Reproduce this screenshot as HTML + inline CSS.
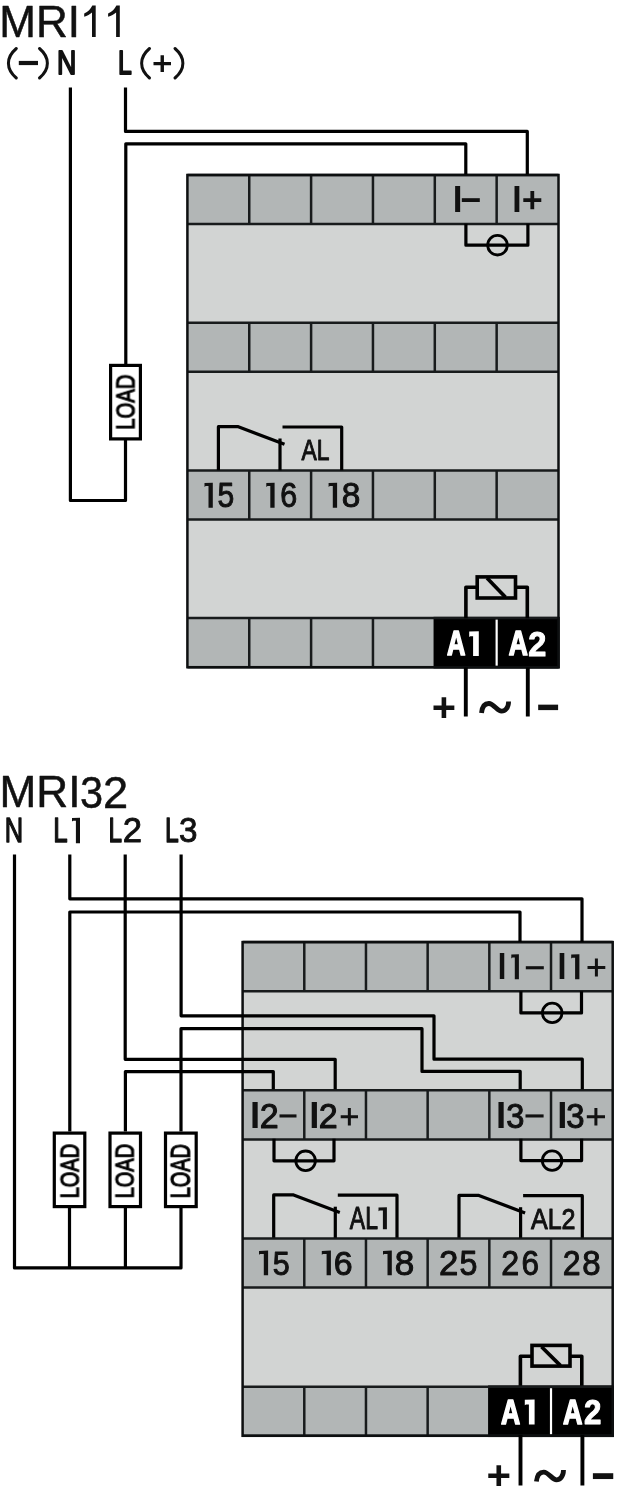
<!DOCTYPE html>
<html><head><meta charset="utf-8"><style>
html,body{margin:0;padding:0;background:#fff;width:626px;height:1500px;overflow:hidden;}
svg{display:block;font-family:"Liberation Sans",sans-serif;filter:blur(0.55px);}

</style></head><body>
<svg width="626" height="1500" viewBox="0 0 626 1500">
<defs><filter id="gs" x="-20%" y="-20%" width="140%" height="140%"><feColorMatrix type="saturate" values="0"/></filter></defs>
<text filter="url(#gs)" transform="translate(-0.78,36.65) scale(0.9895,1)" font-size="44.51" font-weight="normal" fill="#111" stroke="#111" stroke-width="0.5" stroke-linejoin="round">MRI</text>
<path d="M95.7,5.6V36.9H92V12.6C90,14.4 87.2,16.1 84.2,16.8V13.6C88.2,12.1 90.5,9.1 92.3,5.6Z" fill="#111"/>
<path d="M119.8,5.6V36.9H116.1V12.6C114.1,14.4 111.1,16.1 108.1,16.8V13.6C112.1,12.1 114.6,9.1 116.4,5.6Z" fill="#111"/>
<path d="M16.3,48.5C5.8,57.5 5.8,69 16.3,78" stroke="#111" stroke-width="3.0" fill="none" stroke-linecap="round"/>
<rect x="18.8" y="60.9" width="19.2" height="4.2" fill="#111"/>
<path d="M39.5,48.5C50,57.5 50,69 39.5,78" stroke="#111" stroke-width="3.0" fill="none" stroke-linecap="round"/>
<text filter="url(#gs)" transform="translate(57.05,74.15) scale(0.8059,1)" font-size="33.16" font-weight="normal" fill="#111" stroke="#111" stroke-width="1.9" stroke-linejoin="round">N</text>
<text filter="url(#gs)" transform="translate(118.11,74.35) scale(0.7405,1)" font-size="33.45" font-weight="normal" fill="#111" stroke="#111" stroke-width="1.9" stroke-linejoin="round">L</text>
<path d="M149.5,48.5C139,57.5 139,69 149.5,78" stroke="#111" stroke-width="3.0" fill="none" stroke-linecap="round"/>
<path d="M153.5,63.6H171M162.25,55.2V72" stroke="#111" stroke-width="3.4" fill="none"/>
<path d="M175,48.5C185.5,57.5 185.5,69 175,78" stroke="#111" stroke-width="3.0" fill="none" stroke-linecap="round"/>
<rect x="187.4" y="175" width="371.1" height="492.2" fill="#d2d4d3"/>
<rect x="187.4" y="175" width="371.1" height="49.1" fill="#b2b6b6"/>
<path d="M187.4,175H558.5M187.4,224.1H558.5" stroke="#181b1c" stroke-width="2.5" fill="none"/>
<path d="M249.25,175V224.1" stroke="#181b1c" stroke-width="2.5" fill="none"/>
<path d="M311.1,175V224.1" stroke="#181b1c" stroke-width="2.5" fill="none"/>
<path d="M372.95,175V224.1" stroke="#181b1c" stroke-width="2.5" fill="none"/>
<path d="M434.8,175V224.1" stroke="#181b1c" stroke-width="2.5" fill="none"/>
<path d="M496.65,175V224.1" stroke="#181b1c" stroke-width="2.5" fill="none"/>
<rect x="187.4" y="322.7" width="371.1" height="49.1" fill="#b2b6b6"/>
<path d="M187.4,322.7H558.5M187.4,371.8H558.5" stroke="#181b1c" stroke-width="2.5" fill="none"/>
<path d="M249.25,322.7V371.8" stroke="#181b1c" stroke-width="2.5" fill="none"/>
<path d="M311.1,322.7V371.8" stroke="#181b1c" stroke-width="2.5" fill="none"/>
<path d="M372.95,322.7V371.8" stroke="#181b1c" stroke-width="2.5" fill="none"/>
<path d="M434.8,322.7V371.8" stroke="#181b1c" stroke-width="2.5" fill="none"/>
<path d="M496.65,322.7V371.8" stroke="#181b1c" stroke-width="2.5" fill="none"/>
<rect x="187.4" y="470.4" width="371.1" height="49.1" fill="#b2b6b6"/>
<path d="M187.4,470.4H558.5M187.4,519.5H558.5" stroke="#181b1c" stroke-width="2.5" fill="none"/>
<path d="M249.25,470.4V519.5" stroke="#181b1c" stroke-width="2.5" fill="none"/>
<path d="M311.1,470.4V519.5" stroke="#181b1c" stroke-width="2.5" fill="none"/>
<path d="M372.95,470.4V519.5" stroke="#181b1c" stroke-width="2.5" fill="none"/>
<path d="M434.8,470.4V519.5" stroke="#181b1c" stroke-width="2.5" fill="none"/>
<path d="M496.65,470.4V519.5" stroke="#181b1c" stroke-width="2.5" fill="none"/>
<rect x="187.4" y="618.1" width="371.1" height="49.1" fill="#b2b6b6"/>
<rect x="433.55" y="616.85" width="126.2" height="51.6" fill="#000"/>
<path d="M187.4,618.1H558.5M187.4,667.2H558.5" stroke="#181b1c" stroke-width="2.5" fill="none"/>
<path d="M249.25,618.1V667.2" stroke="#181b1c" stroke-width="2.5" fill="none"/>
<path d="M311.1,618.1V667.2" stroke="#181b1c" stroke-width="2.5" fill="none"/>
<path d="M372.95,618.1V667.2" stroke="#181b1c" stroke-width="2.5" fill="none"/>
<path d="M496.65,619.6V665.7" stroke="#fff" stroke-width="2.2" fill="none"/>
<rect x="187.4" y="175" width="371.1" height="492.2" fill="none" stroke="#0d0f10" stroke-width="2.5"/>
<path d="M70.4,87.6V500.5H125.5V440" stroke="#000" stroke-width="3.2" fill="none" stroke-linejoin="round"/>
<path d="M125.8,364V143.8H465.8V174.5" stroke="#000" stroke-width="3.2" fill="none" stroke-linejoin="round"/>
<path d="M125.5,87.6V131.4H527.3V174.5" stroke="#000" stroke-width="3.2" fill="none" stroke-linejoin="round"/>
<rect x="110.6" y="365.4" width="29.8" height="73.5" fill="#fff" stroke="#000" stroke-width="3.2"/>
<text filter="url(#gs)" transform="translate(134.44,429.67) rotate(-90) scale(0.7772,1)" font-size="26.01" font-weight="normal" fill="#000" stroke="#000" stroke-width="1.2">LOAD</text>
<path d="M465.9,223.8V245.2H527.9V223.8" stroke="#000" stroke-width="3.2" fill="none" stroke-linejoin="round"/>
<circle cx="497.5" cy="245.2" r="9.8" fill="none" stroke="#000" stroke-width="2.8"/>
<text filter="url(#gs)" transform="translate(452.63,212) scale(0.9649,1)" font-size="36.36" font-weight="bold" fill="#111">I</text>
<rect x="461.8" y="198.2" width="18" height="3.8" fill="#111"/>
<text filter="url(#gs)" transform="translate(512.23,212) scale(0.9263,1)" font-size="36.36" font-weight="bold" fill="#111">I</text>
<path d="M523.3,200.1H541.3M532.3,191V209.2" stroke="#111" stroke-width="3.8" fill="none"/>
<path d="M204.5,483.1L212.8,482.8V507.7H208.5V486.1H205.7L204.5,486.9Z" fill="#111"/>
<text filter="url(#gs)" transform="translate(217.5,507.15) scale(0.8677,1)" font-size="34.7" font-weight="normal" fill="#111" stroke="#111" stroke-width="1" stroke-linejoin="round">5</text>
<path d="M266.3,483.1L274.6,482.8V507.7H270.3V486.1H267.5L266.3,486.9Z" fill="#111"/>
<text filter="url(#gs)" transform="translate(280.18,507.16) scale(0.8913,1)" font-size="34.2" font-weight="normal" fill="#111" stroke="#111" stroke-width="1" stroke-linejoin="round">6</text>
<path d="M328.6,483.1L337.1,482.8V507.7H332.8V486.1H329.8L328.6,486.9Z" fill="#111"/>
<text filter="url(#gs)" transform="translate(341.78,507.16) scale(0.9766,1)" font-size="34.2" font-weight="normal" fill="#111" stroke="#111" stroke-width="1" stroke-linejoin="round">8</text>
<path d="M218.4,470.3V426.7H238.3L284.5,444.3" stroke="#000" stroke-width="3.2" fill="none" stroke-linejoin="round"/>
<path d="M280,470.3V438.5" stroke="#000" stroke-width="3.2" fill="none" stroke-linejoin="round"/>
<path d="M282.5,427H341.7V470.3" stroke="#000" stroke-width="3.2" fill="none" stroke-linejoin="round"/>
<text filter="url(#gs)" transform="translate(301.44,459.9) scale(0.7571,1)" font-size="30.25" font-weight="normal" fill="#111" stroke="#111" stroke-width="1" stroke-linejoin="round">AL</text>
<path d="M465.9,618.2V587.3H477" stroke="#000" stroke-width="3.6" fill="none" stroke-linejoin="round"/>
<path d="M527.3,618.2V587.3H516" stroke="#000" stroke-width="3.6" fill="none" stroke-linejoin="round"/>
<rect x="477.2" y="576.9" width="38.3" height="21.1" fill="none" stroke="#000" stroke-width="3.6"/>
<path d="M487,578L505.5,597.2" stroke="#000" stroke-width="3.7" fill="none" stroke-linejoin="round"/>
<text filter="url(#gs)" transform="translate(447.11,655.25) scale(0.7467,1)" font-size="34.18" font-weight="bold" fill="#fff" stroke="#fff" stroke-width="1.7" stroke-linejoin="round">A</text>
<path d="M469.2,631.5L478.8,631.2V656.1H473.1V636.2H470.4L469.2,637Z" fill="#fff"/>
<text filter="url(#gs)" transform="translate(508.69,655.25) scale(0.7729,1)" font-size="34.18" font-weight="bold" fill="#fff" stroke="#fff" stroke-width="1.7" stroke-linejoin="round">A</text>
<text filter="url(#gs)" transform="translate(528.16,655.6) scale(0.9367,1)" font-size="34.7" font-weight="bold" fill="#fff" stroke="#fff" stroke-width="1" stroke-linejoin="round">2</text>
<path d="M465.8,667.4V716.5" stroke="#000" stroke-width="3.9" fill="none" stroke-linejoin="round"/>
<path d="M527.8,667.4V716.5" stroke="#000" stroke-width="3.9" fill="none" stroke-linejoin="round"/>
<text filter="url(#gs)" transform="translate(431.63,720.51) scale(1.0053,1)" font-size="41.38" font-weight="bold" fill="#111">+</text>
<path d="M481.5,713C482.3,705.5 485.2,703.4 489,703.5 C493.5,703.6 497.5,711.2 501.5,711.2 C505,711.2 508.6,708 508.6,701.5" stroke="#111" stroke-width="4.8" fill="none"/>
<text filter="url(#gs)" transform="translate(536.41,723.88) scale(0.7960,1)" font-size="50" font-weight="bold" fill="#111">−</text>
<text filter="url(#gs)" transform="translate(-0.49,807.45) scale(0.9955,1)" font-size="44.36" font-weight="normal" fill="#111" stroke="#111" stroke-width="0.5" stroke-linejoin="round">MRI</text>
<text filter="url(#gs)" transform="translate(79.89,807.9) scale(0.9256,1)" font-size="44.81" font-weight="normal" fill="#111" stroke="#111" stroke-width="0.5" stroke-linejoin="round">3</text>
<text filter="url(#gs)" transform="translate(102.89,807.55) scale(1.0220,1)" font-size="44.3" font-weight="normal" fill="#111" stroke="#111" stroke-width="0.5" stroke-linejoin="round">2</text>
<text filter="url(#gs)" transform="translate(4.8,842.2) scale(0.7452,1)" font-size="34.18" font-weight="normal" fill="#111" stroke="#111" stroke-width="1.4" stroke-linejoin="round">N</text>
<text filter="url(#gs)" transform="translate(53.36,842.4) scale(0.7453,1)" font-size="34.76" font-weight="normal" fill="#111" stroke="#111" stroke-width="1.4" stroke-linejoin="round">L</text>
<path d="M72,818.1L80,817.8V843.2H75.9V820.7H73.2L72,821.5Z" fill="#111"/>
<text filter="url(#gs)" transform="translate(108.59,842.2) scale(0.7054,1)" font-size="34.47" font-weight="normal" fill="#111" stroke="#111" stroke-width="1.4" stroke-linejoin="round">L</text>
<text filter="url(#gs)" transform="translate(122.71,842.45) scale(0.9846,1)" font-size="35.27" font-weight="normal" fill="#111" stroke="#111" stroke-width="0.9" stroke-linejoin="round">2</text>
<text filter="url(#gs)" transform="translate(164.96,842.2) scale(0.7186,1)" font-size="34.47" font-weight="normal" fill="#111" stroke="#111" stroke-width="1.4" stroke-linejoin="round">L</text>
<text filter="url(#gs)" transform="translate(179.1,842.4) scale(0.9451,1)" font-size="35.19" font-weight="normal" fill="#111" stroke="#111" stroke-width="0.9" stroke-linejoin="round">3</text>
<rect x="242.6" y="942.1" width="370.1" height="493.7" fill="#d2d4d3"/>
<rect x="242.6" y="942.1" width="370.1" height="49.1" fill="#b2b6b6"/>
<path d="M242.6,942.1H612.7M242.6,991.2H612.7" stroke="#181b1c" stroke-width="2.5" fill="none"/>
<path d="M304.28,942.1V991.2" stroke="#181b1c" stroke-width="2.5" fill="none"/>
<path d="M365.97,942.1V991.2" stroke="#181b1c" stroke-width="2.5" fill="none"/>
<path d="M427.65,942.1V991.2" stroke="#181b1c" stroke-width="2.5" fill="none"/>
<path d="M489.33,942.1V991.2" stroke="#181b1c" stroke-width="2.5" fill="none"/>
<path d="M551.02,942.1V991.2" stroke="#181b1c" stroke-width="2.5" fill="none"/>
<rect x="242.6" y="1090.3" width="370.1" height="49.1" fill="#b2b6b6"/>
<path d="M242.6,1090.3H612.7M242.6,1139.4H612.7" stroke="#181b1c" stroke-width="2.5" fill="none"/>
<path d="M304.28,1090.3V1139.4" stroke="#181b1c" stroke-width="2.5" fill="none"/>
<path d="M365.97,1090.3V1139.4" stroke="#181b1c" stroke-width="2.5" fill="none"/>
<path d="M427.65,1090.3V1139.4" stroke="#181b1c" stroke-width="2.5" fill="none"/>
<path d="M489.33,1090.3V1139.4" stroke="#181b1c" stroke-width="2.5" fill="none"/>
<path d="M551.02,1090.3V1139.4" stroke="#181b1c" stroke-width="2.5" fill="none"/>
<rect x="242.6" y="1238.5" width="370.1" height="49.1" fill="#b2b6b6"/>
<path d="M242.6,1238.5H612.7M242.6,1287.6H612.7" stroke="#181b1c" stroke-width="2.5" fill="none"/>
<path d="M304.28,1238.5V1287.6" stroke="#181b1c" stroke-width="2.5" fill="none"/>
<path d="M365.97,1238.5V1287.6" stroke="#181b1c" stroke-width="2.5" fill="none"/>
<path d="M427.65,1238.5V1287.6" stroke="#181b1c" stroke-width="2.5" fill="none"/>
<path d="M489.33,1238.5V1287.6" stroke="#181b1c" stroke-width="2.5" fill="none"/>
<path d="M551.02,1238.5V1287.6" stroke="#181b1c" stroke-width="2.5" fill="none"/>
<rect x="242.6" y="1386.7" width="370.1" height="49.1" fill="#b2b6b6"/>
<rect x="488.08" y="1385.45" width="125.87" height="51.6" fill="#000"/>
<path d="M242.6,1386.7H612.7M242.6,1435.8H612.7" stroke="#181b1c" stroke-width="2.5" fill="none"/>
<path d="M304.28,1386.7V1435.8" stroke="#181b1c" stroke-width="2.5" fill="none"/>
<path d="M365.97,1386.7V1435.8" stroke="#181b1c" stroke-width="2.5" fill="none"/>
<path d="M427.65,1386.7V1435.8" stroke="#181b1c" stroke-width="2.5" fill="none"/>
<path d="M551.02,1388.2V1434.3" stroke="#fff" stroke-width="2.2" fill="none"/>
<rect x="242.6" y="942.1" width="370.1" height="493.7" fill="none" stroke="#0d0f10" stroke-width="2.5"/>
<path d="M14.5,854.4V1267.9H181V1208" stroke="#000" stroke-width="3.2" fill="none" stroke-linejoin="round"/>
<path d="M69.8,854.4V898.8H582V942" stroke="#000" stroke-width="3.2" fill="none" stroke-linejoin="round"/>
<path d="M69.8,1131.5V912H520V942" stroke="#000" stroke-width="3.2" fill="none" stroke-linejoin="round"/>
<path d="M69.5,1208V1267.9" stroke="#000" stroke-width="3.2" fill="none" stroke-linejoin="round"/>
<path d="M125.2,854.4V1059.3H335.2V1089.3" stroke="#000" stroke-width="3.2" fill="none" stroke-linejoin="round"/>
<path d="M125.4,1131.5V1071.6H273.3V1089.3" stroke="#000" stroke-width="3.2" fill="none" stroke-linejoin="round"/>
<path d="M125.4,1208V1267.9" stroke="#000" stroke-width="3.2" fill="none" stroke-linejoin="round"/>
<path d="M181.1,854.4V1015.8H434V1059.2H582.3V1089.3" stroke="#000" stroke-width="3.2" fill="none" stroke-linejoin="round"/>
<path d="M181,1131.5V1028.7H422V1071.4H520.2V1089.3" stroke="#000" stroke-width="3.2" fill="none" stroke-linejoin="round"/>
<rect x="54.3" y="1133.1" width="30.5" height="73.5" fill="#fff" stroke="#000" stroke-width="3.2"/>
<text filter="url(#gs)" transform="translate(78.65,1198.25) rotate(-90) scale(0.7838,1)" font-size="25.44" font-weight="normal" fill="#000" stroke="#000" stroke-width="1.2">LOAD</text>
<rect x="110" y="1133.1" width="30.5" height="73.5" fill="#fff" stroke="#000" stroke-width="3.2"/>
<text filter="url(#gs)" transform="translate(133.63,1198.25) rotate(-90) scale(0.7505,1)" font-size="26.57" font-weight="normal" fill="#000" stroke="#000" stroke-width="1.2">LOAD</text>
<rect x="165.5" y="1133.1" width="30.7" height="73.5" fill="#fff" stroke="#000" stroke-width="3.2"/>
<text filter="url(#gs)" transform="translate(189.83,1198.25) rotate(-90) scale(0.7310,1)" font-size="27.28" font-weight="normal" fill="#000" stroke="#000" stroke-width="1.2">LOAD</text>
<path d="M520.9,991.2V1012.9H581.5V991.2" stroke="#000" stroke-width="3.2" fill="none" stroke-linejoin="round"/>
<circle cx="552.2" cy="1012.9" r="9.8" fill="none" stroke="#000" stroke-width="2.8"/>
<path d="M274,1138.7V1160.8H334V1138.7" stroke="#000" stroke-width="3.2" fill="none" stroke-linejoin="round"/>
<circle cx="305.6" cy="1160.8" r="9.8" fill="none" stroke="#000" stroke-width="2.8"/>
<path d="M520.9,1138.7V1160.6H581.6V1138.7" stroke="#000" stroke-width="3.2" fill="none" stroke-linejoin="round"/>
<circle cx="552.1" cy="1160.6" r="9.8" fill="none" stroke="#000" stroke-width="2.8"/>
<text filter="url(#gs)" transform="translate(497.72,979.3) scale(0.8457,1)" font-size="36.51" font-weight="bold" fill="#111">I</text>
<path d="M511.3,954.5L518.9,954.2V979.3H514.8V957.6H512.5L511.3,958.4Z" fill="#111"/>
<rect x="525.8" y="966.2" width="18" height="3.1" fill="#111"/>
<text filter="url(#gs)" transform="translate(557.52,979.3) scale(0.8842,1)" font-size="36.51" font-weight="bold" fill="#111">I</text>
<path d="M571.2,954.5L579.4,954.2V979.3H575.1V957.7H572.4L571.2,958.5Z" fill="#111"/>
<path d="M587.5,967.5H605.3M596.4,958.6V976.4" stroke="#111" stroke-width="3.0" fill="none"/>
<text filter="url(#gs)" transform="translate(250.04,1128.4) scale(0.9838,1)" font-size="37.09" font-weight="bold" fill="#111">I</text>
<text filter="url(#gs)" transform="translate(259.65,1127.85) scale(0.9620,1)" font-size="35.41" font-weight="normal" fill="#111" stroke="#111" stroke-width="1.1" stroke-linejoin="round">2</text>
<rect x="279.5" y="1114.4" width="17" height="3.1" fill="#111"/>
<text filter="url(#gs)" transform="translate(309.14,1128.4) scale(0.9838,1)" font-size="37.09" font-weight="bold" fill="#111">I</text>
<text filter="url(#gs)" transform="translate(318.85,1127.85) scale(0.9620,1)" font-size="35.41" font-weight="normal" fill="#111" stroke="#111" stroke-width="1.1" stroke-linejoin="round">2</text>
<path d="M340.7,1116.65H358M349.35,1107.9V1125.4" stroke="#111" stroke-width="3.0" fill="none"/>
<text filter="url(#gs)" transform="translate(496.04,1128.4) scale(0.9838,1)" font-size="37.09" font-weight="bold" fill="#111">I</text>
<text filter="url(#gs)" transform="translate(506.13,1127.9) scale(0.9198,1)" font-size="35.48" font-weight="normal" fill="#111" stroke="#111" stroke-width="1.1" stroke-linejoin="round">3</text>
<rect x="525.5" y="1114.4" width="18.1" height="3.1" fill="#111"/>
<text filter="url(#gs)" transform="translate(557.34,1128.4) scale(0.9838,1)" font-size="37.09" font-weight="bold" fill="#111">I</text>
<text filter="url(#gs)" transform="translate(566.32,1127.9) scale(0.9257,1)" font-size="35.48" font-weight="normal" fill="#111" stroke="#111" stroke-width="1.1" stroke-linejoin="round">3</text>
<path d="M586.8,1116.65H605M595.9,1107.9V1125.4" stroke="#111" stroke-width="3.0" fill="none"/>
<path d="M273.7,1237.8V1194.9H293.6L339.8,1212.5" stroke="#000" stroke-width="3.2" fill="none" stroke-linejoin="round"/>
<path d="M335.3,1237.8V1206.7" stroke="#000" stroke-width="3.2" fill="none" stroke-linejoin="round"/>
<path d="M337.8,1195.2H397V1237.8" stroke="#000" stroke-width="3.2" fill="none" stroke-linejoin="round"/>
<path d="M459,1237.8V1195.4H478.9L525.1,1213" stroke="#000" stroke-width="3.2" fill="none" stroke-linejoin="round"/>
<path d="M520.6,1237.8V1207.2" stroke="#000" stroke-width="3.2" fill="none" stroke-linejoin="round"/>
<path d="M523.1,1195.7H582.3V1237.8" stroke="#000" stroke-width="3.2" fill="none" stroke-linejoin="round"/>
<text filter="url(#gs)" transform="translate(349.84,1228.7) scale(0.7526,1)" font-size="30.55" font-weight="normal" fill="#111" stroke="#111" stroke-width="1" stroke-linejoin="round">AL</text>
<path d="M378.5,1207.5L386.9,1207.2V1229.2H382.9V1210.4H379.7L378.5,1211.2Z" fill="#111"/>
<text filter="url(#gs)" transform="translate(530.94,1228.5) scale(0.8458,1)" font-size="29.68" font-weight="normal" fill="#111" stroke="#111" stroke-width="1" stroke-linejoin="round">AL2</text>
<path d="M259,1250.9L268.1,1250.6V1275.2H263.8V1253.9H260.2L259,1254.7Z" fill="#111"/>
<text filter="url(#gs)" transform="translate(272.68,1274.56) scale(0.8946,1)" font-size="34.12" font-weight="normal" fill="#111" stroke="#111" stroke-width="1" stroke-linejoin="round">5</text>
<path d="M321.8,1250.9L330.9,1250.6V1275.2H326.6V1253.9H323L321.8,1254.7Z" fill="#111"/>
<text filter="url(#gs)" transform="translate(333.7,1274.76) scale(1.0007,1)" font-size="33.92" font-weight="normal" fill="#111" stroke="#111" stroke-width="1" stroke-linejoin="round">6</text>
<path d="M383,1250.9L391.8,1250.6V1275.2H387.5V1253.9H384.2L383,1254.7Z" fill="#111"/>
<text filter="url(#gs)" transform="translate(394.81,1274.96) scale(1.0264,1)" font-size="34.2" font-weight="normal" fill="#111" stroke="#111" stroke-width="1" stroke-linejoin="round">8</text>
<text filter="url(#gs)" transform="translate(438.96,1275.1) scale(0.9927,1)" font-size="34.98" font-weight="normal" fill="#111" stroke="#111" stroke-width="1" stroke-linejoin="round">2</text>
<text filter="url(#gs)" transform="translate(459.41,1274.95) scale(0.9284,1)" font-size="34.7" font-weight="normal" fill="#111" stroke="#111" stroke-width="1" stroke-linejoin="round">5</text>
<text filter="url(#gs)" transform="translate(501.18,1275.1) scale(0.9235,1)" font-size="34.98" font-weight="normal" fill="#111" stroke="#111" stroke-width="1" stroke-linejoin="round">2</text>
<text filter="url(#gs)" transform="translate(521.52,1274.95) scale(0.9079,1)" font-size="34.77" font-weight="normal" fill="#111" stroke="#111" stroke-width="1" stroke-linejoin="round">6</text>
<text filter="url(#gs)" transform="translate(562.8,1275.1) scale(0.9173,1)" font-size="34.98" font-weight="normal" fill="#111" stroke="#111" stroke-width="1" stroke-linejoin="round">2</text>
<text filter="url(#gs)" transform="translate(582.3,1274.95) scale(0.9485,1)" font-size="34.77" font-weight="normal" fill="#111" stroke="#111" stroke-width="1" stroke-linejoin="round">8</text>
<path d="M520.4,1385.7V1356.2H531" stroke="#000" stroke-width="3.6" fill="none" stroke-linejoin="round"/>
<path d="M581.8,1385.7V1356.2H570" stroke="#000" stroke-width="3.6" fill="none" stroke-linejoin="round"/>
<rect x="532" y="1345.4" width="38" height="20.7" fill="none" stroke="#000" stroke-width="3.6"/>
<path d="M541.5,1346.8L560.5,1365.6" stroke="#000" stroke-width="3.7" fill="none" stroke-linejoin="round"/>
<text filter="url(#gs)" transform="translate(500.99,1423.65) scale(0.7739,1)" font-size="34.33" font-weight="bold" fill="#fff" stroke="#fff" stroke-width="1.7" stroke-linejoin="round">A</text>
<path d="M524.8,1399.7L534.6,1399.4V1424.5H528.9V1404.4H526L524.8,1405.2Z" fill="#fff"/>
<text filter="url(#gs)" transform="translate(563.08,1423.65) scale(0.7826,1)" font-size="34.33" font-weight="bold" fill="#fff" stroke="#fff" stroke-width="1.7" stroke-linejoin="round">A</text>
<text filter="url(#gs)" transform="translate(583.91,1424) scale(0.8970,1)" font-size="34.84" font-weight="bold" fill="#fff" stroke="#fff" stroke-width="1" stroke-linejoin="round">2</text>
<path d="M520.5,1434.9V1485.5" stroke="#000" stroke-width="3.9" fill="none" stroke-linejoin="round"/>
<path d="M582.4,1434.9V1485.5" stroke="#000" stroke-width="3.9" fill="none" stroke-linejoin="round"/>
<text filter="url(#gs)" transform="translate(486.41,1489.31) scale(1.0150,1)" font-size="41.38" font-weight="bold" fill="#111">+</text>
<path d="M536.4,1481.6C537.2,1474.1 540.1,1472 543.9,1472.1 C548.4,1472.2 552.4,1479.8 556.4,1479.8 C559.9,1479.8 563.5,1476.6 563.5,1470.1" stroke="#111" stroke-width="4.8" fill="none"/>
<text filter="url(#gs)" transform="translate(591.37,1493.88) scale(0.7569,1)" font-size="53.64" font-weight="bold" fill="#111">−</text>
</svg></body></html>
